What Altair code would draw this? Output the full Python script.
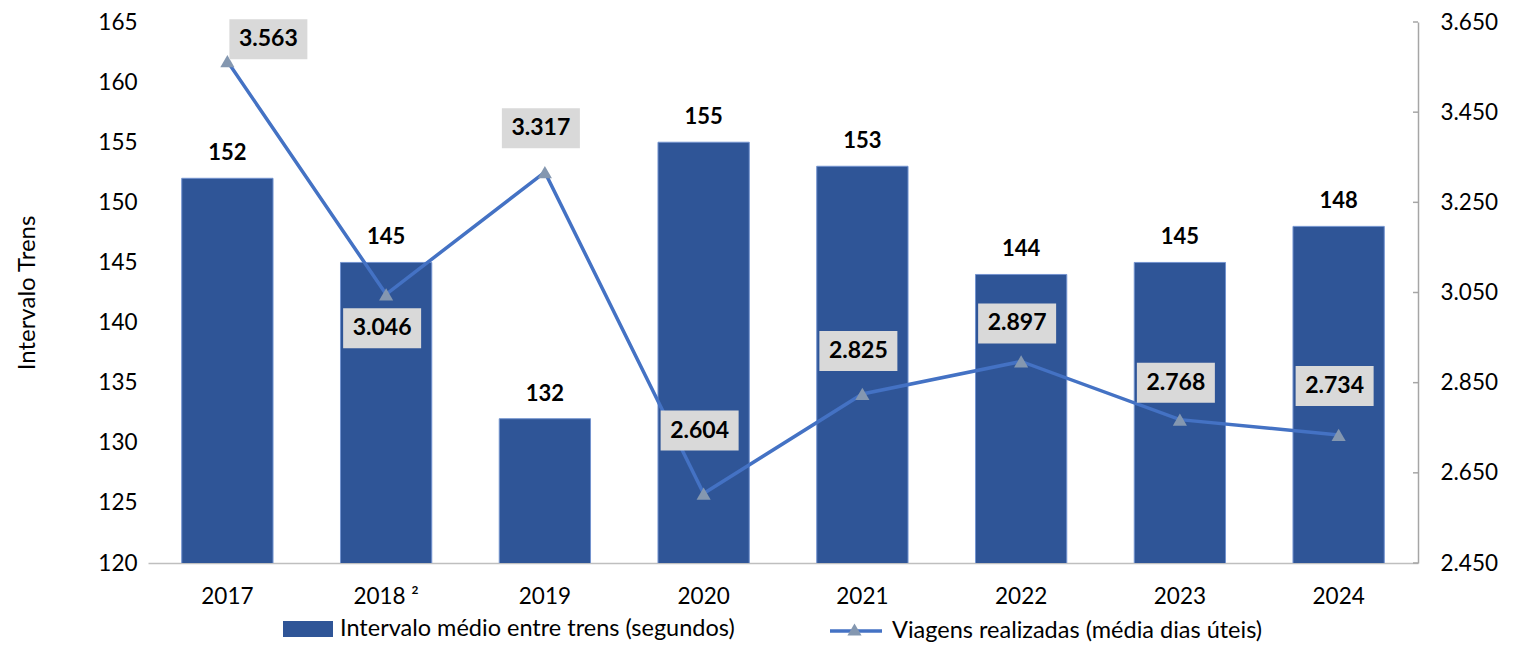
import altair as alt
import pandas as pd

# ---- data ----
years = ["2017", "2018 ²", "2019", "2020", "2021", "2022", "2023", "2024"]
intervalo = [152, 145, 132, 155, 153, 144, 145, 148]
viagens = [3563, 3046, 3317, 2604, 2825, 2897, 2768, 2734]
left_ticks = [120, 125, 130, 135, 140, 145, 150, 155, 160, 165]
right_ticks = [2450, 2650, 2850, 3050, 3250, 3450, 3650]
serie_barras = "Intervalo médio entre trens (segundos)"
serie_linha = "Viagens realizadas (média dias úteis)"
titulo = "VIAGENS REALIZADAS E INTERVALO MÉDIO REALIZADO ENTRE TRENS"

# label placement (pixels, relative to each point)
label_dy = [-22, 34, -44, -63, -43, -38, -37, -49]

W, H = 1270, 541
FONT = "Lato"
AX = 22.5

df = pd.DataFrame({
    "ano": years,
    "intervalo": intervalo,
    "viagens": viagens,
    "dy": label_dy,
    "s1": serie_barras,
    "s2": serie_linha,
})
df["vlabel"] = [f"{v:,}".replace(",", ".") for v in viagens]
ticks_df = pd.DataFrame({"viagens": right_ticks})

x_enc = alt.X(
    "ano:N", sort=years,
    scale=alt.Scale(paddingInner=0.425, paddingOuter=0.2125),
    axis=alt.Axis(title=None, labelAngle=0, ticks=False, tickSize=0,
                  domainColor="#BFBFBF", domainWidth=1.5, labelPadding=22,
                  labelFontSize=AX, labelFont=FONT, labelColor="#000000"),
)
y_left = alt.Y(
    "intervalo:Q",
    scale=alt.Scale(domain=[120, 165], nice=False, zero=False),
    axis=alt.Axis(values=left_ticks, title="Intervalo Trens", grid=False,
                  domain=False, ticks=False, tickSize=0, labelPadding=11,
                  labelFontSize=AX, labelFont=FONT, labelColor="#000000",
                  titleFontSize=24, titleFont=FONT, titleFontWeight="normal",
                  titleColor="#000000", titlePadding=58),
)
y_right = alt.Y(
    "viagens:Q",
    scale=alt.Scale(domain=[2450, 3650], nice=False, zero=False),
    axis=alt.Axis(orient="right", values=right_ticks, title=None, grid=False,
                  ticks=False, tickSize=0, domainColor="#A6A6A6", domainWidth=1.5,
                  labelPadding=22, labelFontSize=AX, labelFont=FONT,
                  labelColor="#000000",
                  labelExpr="replace(format(datum.value, ','), ',', '.')"),
)

base = alt.Chart(df)

bars = base.mark_bar(stroke="#7393CF", strokeWidth=1, clip=True).encode(
    x=x_enc, y=y_left,
    fill=alt.Fill("s1:N", scale=alt.Scale(range=["#2F5597"]),
                  legend=alt.Legend(orient="none", legendX=135, legendY=582,
                                    title=None,
                                    symbolType="M-1,-0.32L1,-0.32L1,0.32L-1,0.32Z",
                                    symbolSize=2500, symbolStrokeWidth=0,
                                    labelFontSize=23.5, labelFont=FONT,
                                    labelColor="#000000", labelOffset=7,
                                    labelLimit=600)),
)
bar_labels = base.mark_text(dy=-25, fontSize=22, fontWeight="bold", font=FONT,
                            color="#000000").encode(
    x=x_enc, y=y_left, text="intervalo:Q")
left = alt.layer(bars, bar_labels)

line = base.mark_line(strokeWidth=3.5).encode(
    x=x_enc, y=y_right,
    stroke=alt.Stroke("s2:N", scale=alt.Scale(range=["#4472C4"]),
                      legend=alt.Legend(orient="none", legendX=680, legendY=581,
                                        title=None, symbolType="stroke",
                                        symbolSize=2704, symbolStrokeWidth=3.5,
                                        labelFontSize=23.5, labelFont=FONT,
                                        labelColor="#000000", labelOffset=8,
                                        labelLimit=600)),
)
points = base.mark_point(filled=True, fill="#8497B0", opacity=1, size=200,
                         strokeWidth=0).encode(
    x=x_enc, y=y_right,
    shape=alt.Shape("s2:N", scale=alt.Scale(range=["triangle-up"]),
                    legend=alt.Legend(orient="none", legendX=699, legendY=600,
                                      title=None, symbolType="triangle-up",
                                      symbolSize=200, symbolFillColor="#8497B0",
                                      symbolStrokeWidth=0, labelExpr="''",
                                      labelFontSize=1)),
)

box_shape = "M-1,-0.5128L1,-0.5128L1,0.5128L-1,0.5128Z"
first = alt.datum.ano == years[0]
dy_expr = {"expr": "datum.dy"}
boxes_a = base.transform_filter(first).mark_point(
    shape=box_shape, size=6084, filled=True, fill="#D9D9D9", opacity=1,
    strokeWidth=0, xOffset=41, yOffset=dy_expr).encode(x=x_enc, y=y_right)
boxes_b = base.transform_filter(~first).mark_point(
    shape=box_shape, size=6084, filled=True, fill="#D9D9D9", opacity=1,
    strokeWidth=0, xOffset=-4, yOffset=dy_expr).encode(x=x_enc, y=y_right)
txt_a = base.transform_filter(first).mark_text(
    fontSize=23, fontWeight="bold", font=FONT, color="#000000",
    xOffset=41, yOffset=dy_expr).encode(x=x_enc, y=y_right, text="vlabel:N")
txt_b = base.transform_filter(~first).mark_text(
    fontSize=23, fontWeight="bold", font=FONT, color="#000000",
    xOffset=-4, yOffset=dy_expr).encode(x=x_enc, y=y_right, text="vlabel:N")

tick_rules = alt.Chart(ticks_df).mark_rule(color="#A6A6A6", strokeWidth=1.5).encode(
    y=y_right, x=alt.value(W - 5), x2=alt.value(W))

right = alt.layer(line, points, boxes_a, boxes_b, txt_a, txt_b, tick_rules)

chart = alt.layer(left, right).resolve_scale(y="independent").properties(
    width=W, height=H,
    autosize=alt.AutoSizeParams(type="none"),
    padding={"left": 140, "top": 14, "right": 88, "bottom": 80},
    title=alt.TitleParams(titulo, fontSize=30, font=FONT, fontWeight="bold",
                          anchor="middle", dx=27, offset=4,
                          baseline="alphabetic", color="#000000"),
).configure_view(stroke=None)

chart.save("out.html", embed_options={"renderer": "svg", "actions": False})
